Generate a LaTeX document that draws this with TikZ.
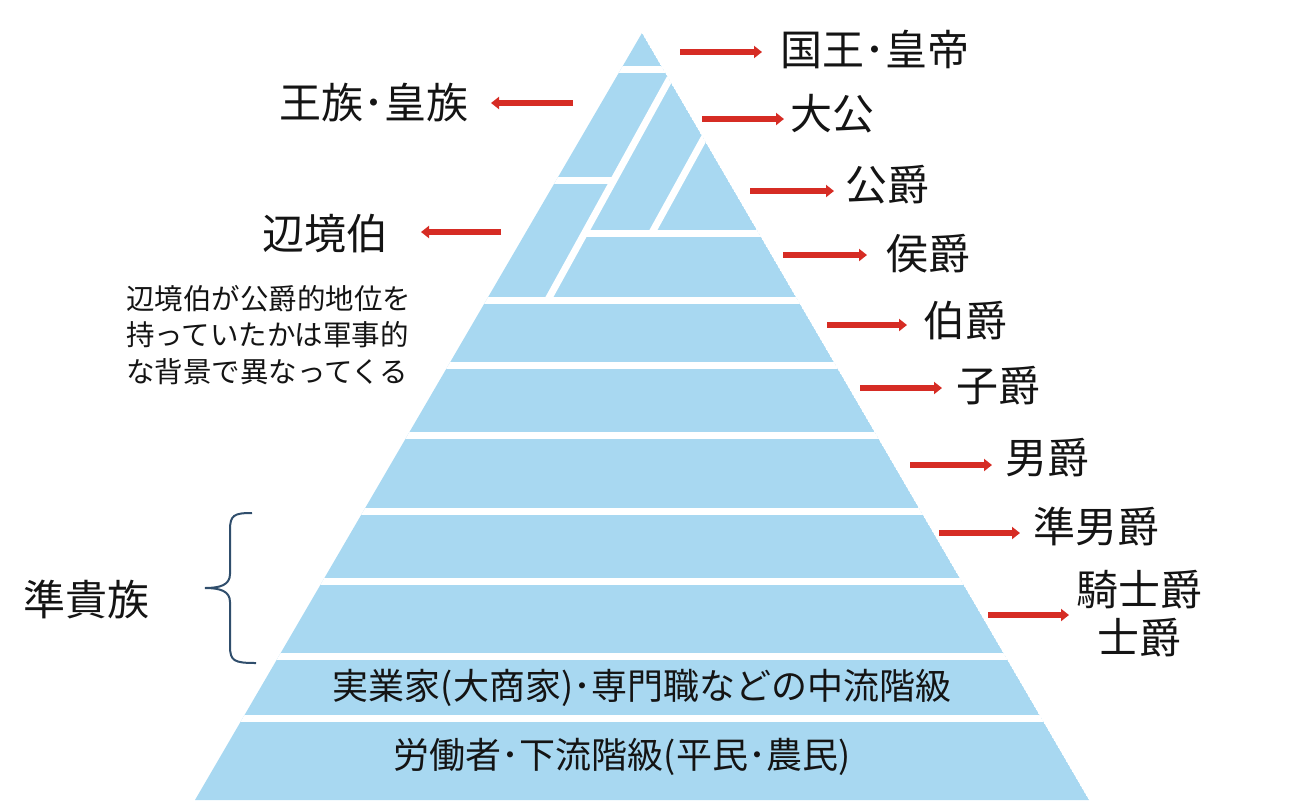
\documentclass[tikz,border=0pt]{standalone}
\usepackage{fontspec}
\setmainfont{Noto Sans CJK JP}
\usetikzlibrary{arrows.meta}
\definecolor{pyr}{RGB}{168,216,241}
\definecolor{arrred}{RGB}{214,44,36}
\definecolor{brace}{RGB}{48,78,108}
\definecolor{txt}{RGB}{20,20,20}
\tikzset{
  arr/.style={draw=arrred, line width=5.5pt, -{Triangle[length=8pt,width=12pt]}},
  gap/.style={draw=white, line width=7pt},
  big/.style={inner sep=0pt, text=txt, font=\fontsize{42}{46}\selectfont},
  mid/.style={inner sep=0pt, text=txt, font=\fontsize{36}{40}\selectfont},
  note/.style={inner sep=0pt, text=txt, font=\fontsize{28.5}{36.5}\selectfont, align=left},
}
\begin{document}
\begin{tikzpicture}[x=1pt,y=-1pt]
\useasboundingbox (0,0) rectangle (1290,807);
% pyramid
\coordinate (apex) at (642,33);
\coordinate (bl) at (195,800);
\coordinate (br) at (1089,800);
\begin{scope}
  \clip (apex) -- (br) -- (bl) -- cycle;
  \fill[pyr] (apex) -- (br) -- (bl) -- cycle;
  % horizontal gaps
  \foreach \y in {69.5,300.5,365,435,511.5,581.5,656.5,718}
    \draw[gap] (0,\y) -- (1290,\y);
  \draw[gap] (0,180) -- (614,180);
  \draw[gap] (584.4,233.5) -- (1290,233.5);
  % diagonal gaps
  \draw[gap] (547.5,300.5) -- (680,60);
  \draw[gap] (651.5,233.5) -- (720,109);
\end{scope}
% band texts
\node[mid] (mid1) at (642,688) {実業家(大商家)･専門職などの中流階級};
\node[mid] (low1) at (622,757) {労働者･下流階級(平民･農民)};
% right labels
\node[big, anchor=west] (l1) at (780,50) {国王･皇帝};
\node[big, anchor=west] (l3) at (790,114) {大公};
\node[big, anchor=west] (l4) at (845,185) {公爵};
\node[big, anchor=west] (l5) at (886,254) {侯爵};
\node[big, anchor=west] (l6) at (923,321) {伯爵};
\node[big, anchor=west] (l7) at (956,386) {子爵};
\node[big, anchor=west] (l8) at (1005,458) {男爵};
\node[big, anchor=west] (l9) at (1033,527) {準男爵};
\node[big, align=center] (l10) at (1139,614) {騎士爵\\[2pt]士爵};
% left labels
\node[big, anchor=east] (l2) at (469,103) {王族･皇族};
\node[big, anchor=east] (l11) at (389,234) {辺境伯};
\node[note, anchor=north west] (n1) at (126,285) {辺境伯が公爵的地位を\\持っていたかは軍事的\\な背景で異なってくる};
\node[big, anchor=west] (l12) at (23,599) {準貴族};
% arrows
\coordinate (a1s) at (680,52);  \coordinate (a1e) at (762,52);
\coordinate (a2s) at (573,103); \coordinate (a2e) at (491,103);
\coordinate (a3s) at (702,119); \coordinate (a3e) at (784,119);
\coordinate (a4s) at (750,191); \coordinate (a4e) at (834,191);
\coordinate (a5s) at (783,255); \coordinate (a5e) at (867,255);
\coordinate (a6s) at (827,325); \coordinate (a6e) at (907,325);
\coordinate (a7s) at (860,388); \coordinate (a7e) at (942,388);
\coordinate (a8s) at (910,465); \coordinate (a8e) at (992,465);
\coordinate (a9s) at (939,533); \coordinate (a9e) at (1020,533);
\coordinate (a10s) at (988,615); \coordinate (a10e) at (1069,615);
\coordinate (a11s) at (501,232); \coordinate (a11e) at (421,232);
\foreach \i in {1,...,11} \draw[arr] (a\i s) -- (a\i e);
% brace
\coordinate (bt) at (252,513);
\coordinate (bb) at (256,663);
\draw[brace, line width=2pt] (bt) .. controls (234,513) and (230,515) .. (230,530)
  -- (230,574) .. controls (230,585) and (220,588) .. (205,588)
  .. controls (220,588) and (230,591) .. (230,602)
  -- (230,646) .. controls (230,661) and (234,663) .. (bb);
\end{tikzpicture}
\end{document}
